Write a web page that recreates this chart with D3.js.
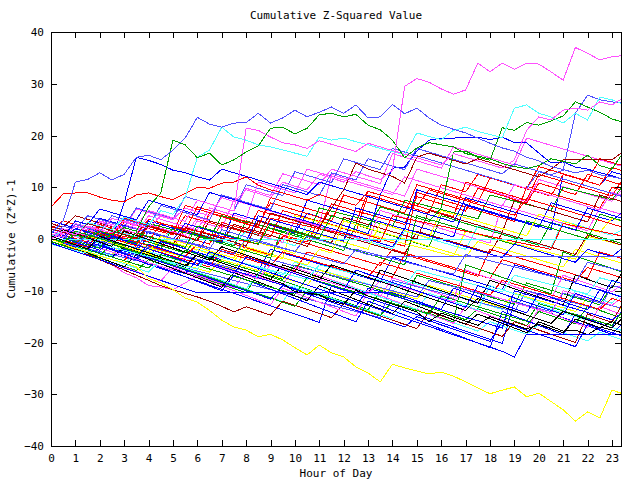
<!DOCTYPE html>
<html>
<head>
<meta charset="utf-8">
<script src="https://cdn.jsdelivr.net/npm/d3@7"></script>
<style>
  body { margin: 0; background: #fff; }
  svg text { font-family: "DejaVu Sans Mono", monospace; font-size: 11px; fill: #000; }
</style>
</head>
<body>
<div id="chart"></div>
<script>
// half-hour sample times, 0 .. 23.5
const hours = d3.range(0, 24, 0.5);
const yTicks = [-40, -30, -20, -10, 0, 10, 20, 30, 40];
const xTicks = d3.range(0, 24, 1);

const _ = null; // no sample (gnuplot joins across it)

const pinkTop = [0,1.5,0.8,2.5,1.8,1.2,3.5,2.8, 2,4.5,3.8,6,5.2,4.5,8,7.2, 9.5,8.8,8,11,10.2,9.5,12.5,11.8, 11,13,12.2,11.5,13.3,29.5,31,30.3, 29,28,28.8,34,32.3,34,32.8,34, 33.8,32.3,30.7,37,35.9,34.6,35.2,35.5];
const yellowLow = [0,-1,-1.8,-2.5,-3.3,-4,-4.5,-5.4, -7.6,-8.5,-9.8,-11.4,-12.2,-13.8,-15.7,-17, -17.6,-18.9,-18.4,-19.5,-21,-22.4,-20.5,-22, -22.8,-24.7,-25.9,-27.6,-24.2,-24.9,-25.5,-26.1, -25.7,-26.5,-27.6,-28.8,-29.9,-29.2,-28.6,-30.5, -29.8,-31.4,-33,-35.2,-33.4,-34.6,-29.2,-30];
const lblueUp = [1,3.5,11,11.5,12.8,11.4,12.5,15.8, 16.2,15.3,17.2,19.5,23.5,22.2,21.6,22.4, 22.5,24.3,22.4,23.4,24.9,23.6,24.5,25.5, 24.3,25.9,23.4,23.6,26,24.2,25.3,23.4, 22,21.2,20.5,19.5,18.5,17.6,17,15.8, 15.1,14,13.4,12.8,13.3,12.4,12,11.6];
const greenUp = [0,-0.5,0.8,0.2,1.5,0.8,2.2,1.5, 6.2,8.9,19.1,18.2,15.7,16.6,14.3,15.3, 16.8,18,21.4,21.6,20.3,21.4,24,24.3, 23.6,24.1,22,21.1,19.1,15.7,17.6,18.6, 18.2,17.8,16.5,16,15.5,14.6,14,13.6, 14.2,15.5,15,14.5,16.2,14.2,13.5,17];
const redHigh = [6.2,8.7,8.9,8.9,8.1,7.5,7.2,8.5, 8.9,8.2,7.6,8.8,10,9.8,10.8,11, 12,10.4,9.5,8.9,8.2,7.5,8.6,7.8, 7.2,6.5,9.2,8.5,7.8,7.1,6.4,9.5, 8.8,8.1,7.4,6.7,6,5.3,4.6,7.8, 7.1,6.4,5.7,5,4.3,3.6,2.9,2.2];
const pinkB = [1,0.3,2.5,1.8,1.1,4,3.3,2.6, 5.5,4.8,4.1,3.4,7.5,6.8,6.1,5.4, 21.4,21,19.7,18.6,18.2,17.5,19,18.3, 17.6,16.9,18.5,17.8,17.1,16.4,15.7,15, 14.3,16.5,15.8,15.1,14.4,13.7,15.3,21, 23.6,23,24.9,25.3,24.9,26.5,25.9,27.4];
const cyanUp = [0.5,1.5,0.8,3.2,2.5,1.8,4.2,3.5, 2.8,5.5,4.8,8,15.8,17.2,21.6,19.7, 19.1,18.2,17.8,17.2,16.6,16,19.7,19.1, 19.5,18.8,18.2,17.5,16.9,16.3,20.5,19.8, 19.2,21,21.6,20.8,20.2,19.6,25.3,25.9, 24.3,23.6,22.4,24.3,23,27.4,26.9,26];
const greenB = [0,-0.7,1.5,0.8,0.1,-0.6,-1.3,1.2, 0.5,-0.2,-0.9,-1.6,2.5,1.8,1.1,0.4, -0.3,-1,3,2.3,1.6,0.9,0.2,4.5, 3.8,3.1,2.4,6.2,5.5,4.8,4.1,3.4, 6,16.8,17,15.8,15.2,21.5,21,22.5, 22,22.8,23.8,26.5,25.5,24.5,23.2,22.5];
const dredFlat = [2,1.3,0.6,3,2.3,1.6,0.9,0.2, 2.5,1.8,1.1,0.4,-0.3,3.5,2.8,2.1, 1.4,0.7,5,4.3,3.6,2.9,2.2,6, 9.5,14.7,13.5,12.8,12.1,10.8,15.8,16.6, 15.9,15.2,14.5,15.5,14.8,14.1,13.4,12.7, 12,13.5,15.3,_,_,_,15.3,17];
const cyanFlat = [-0.1,_,_,_,_,_,_,_, _,_,_,_,_,_,_,_, _,_,_,_,_,_,_,_, _,_,_,_,_,_,_,_, _,_,_,_,_,_,_,_, _,_,_,_,_,_,_,-0.1];
const lblueFlat = [0,-0.7,-1.4,1,0.3,-0.4,-1.1,-1.8, 1.5,0.8,0.1,-0.6,-1.3,-2,1.8,1.1, 0.4,-0.3,-1,-1.7,-2.4,0.5,-0.2,-0.9, -1.6,-2.3,-3,-3.3,_,_,_,_, _,_,_,_,_,_,_,_, _,_,_,_,_,_,_,-3.3];
const blueFlat = [-0.8,-1.6,-2.4,-3.2,-4,-4.8,-5.6,-6.4, -7.2,-8,-8.8,-9.6,-10.4,_,_,_, _,_,_,_,_,_,_,_, _,_,_,_,-10.4,-11.2,-12,-12.8, -13.6,-9.5,-10.3,-11.1,-11.9,-12.7,-13.5,-14.3, -10.5,-11.3,-12.1,-12.9,-13.7,-9.8,-10.6,-11.4];
const blueFlat2 = [1,0.2,-0.6,-1.4,-2.2,0.5,-0.3,-1.1, -1.9,-2.7,-3.5,-4.3,-5.1,-2.5,-3.3,-4.1, -4.9,-5.7,-6.5,-7.3,-8.1,-8.9,-9.7,-10.5, -11.3,-12.1,-12.9,-13.7,-14.5,-15.3,-16.1,-16.9, -17.7,-18.5,-19.3,-20.1,-20.9,-21.7,-22.8,-18.4, _,_,_,_,_,_,_,-18.4];
const black1 = [0.5,-0.3,-1.1,-1.9,0.5,-0.3,-1.1,-1.9, -2.7,-3.5,-4.3,-5.1,-3,-3.8,-4.6,-5.4, -6.2,-7,-7.8,-8.6,-10.2,-10.4,-10.8,-12, -12.6,-9.9,-11,-11.8,-12.6,-13.3,-14.1,-16, -14.3,-15.1,-15.9,-16.7,-15,-15.8,-16.6,-17.4, -16.5,-17.3,-18.1,-15.5,-16.3,-17.1,-16,-16.8];
const black2 = [0,1.8,1,0.2,-0.6,-1.4,1.5,0.7, -0.1,-0.9,-1.7,-2.5,-3.3,-4.1,-1.5,-2.3, -3.1,-3.9,-4.7,-5.5,-6.3,-7.1,-7.9,-5, -5.8,-6.6,-7.4,-8.2,-9,-9.8,-10.6,-11.4, -12.2,-13,-13.8,-11.5,-12.3,-13.1,-13.9,-14.7, -15.5,-16.3,-14,-14.8,-15.6,-16.4,-17.2,-15];

const b01 = [1,0.5,2.5,1.8,1.2,0.6,3.2,2.6, 2,1.4,0.8,4.5,3.8,3.2,2.5,1.9, 1.2,5.5,4.8,4.2,3.5,2.9,2.2,6.8, 6.1,5.4,4.8,4.1,3.5,2.8,8.2,7.5, 6.8,6.1,5.4,9.8,9.1,8.4,7.6,6.9, 10.8,10.1,9.3,8.6,12.5,11.8,11,10.3];
const b02 = [0.5,-0.2,-0.8,-1.5,1.5,0.9,0.2,-0.5, -1.2,-1.8,2.2,1.5,0.8,0.1,-0.6,-1.3, 3.5,2.8,2,1.3,0.6,-0.1,-0.8,-1.5, -2.2,2.8,2,1.3,0.6,-0.1,-0.8,-1.5, 4.5,3.8,3,2.3,1.6,0.9,0.2,-0.5, -1.2,3.2,2.5,1.8,1.1,0.4,-0.3,-1];
const b03 = [2,1.2,0.5,-0.2,-0.9,-1.6,-2.3,-3, -3.7,-0.5,-1.2,-1.9,-2.6,-3.3,-4,-4.7, -5.4,-6.1,-2,-2.7,-3.4,-4.1,-4.8,-5.5, -6.2,-6.9,-7.6,-8.3,-3.5,-4.2,-4.9,-5.6, -6.3,-7,-7.7,-8.4,-9.1,-9.8,-5,-5.7, -6.4,-7.1,-7.8,-8.5,-9.2,-9.9,-10.6,-11.3];
const b04 = [0,1.2,0.5,-0.2,3.5,2.8,2.1,5.8, 5.1,4.4,3.7,8.2,7.5,6.8,6.1,5.4, 9.8,9.1,8.4,12.6,11.9,11.2,10.5,13.5, 12.8,12.1,11.4,10.7,16.5,15.8,15.1,14.4, 13.7,17.8,17.1,16.4,15.7,15,14.3,19.5, 18.8,18.1,17.4,16.7,16,15.3,14.6,13.9];
const b05 = [0.5,-0.3,-1,-1.8,-2.5,-3.2,-1,-1.7, -2.4,-3.1,-3.8,-4.5,-2,-2.7,-3.4,-4.1, -4.8,-5.5,-6.2,-6.9,-4.5,-5.2,-5.9,-6.6, -7.3,-8,-8.7,-9.4,-10.1,-8,-8.7,-9.4, -10.1,-10.8,-11.5,-12.2,-12.9,-13.6,-11.5,-12.2, -12.9,-13.6,-14.3,-15,-15.7,-16.4,-17.1,-17.8];
const b06 = [1.5,0.8,0.1,-0.6,2.5,1.8,1.1,0.4, -0.3,-1,-1.7,1.8,1.1,0.4,-0.3,-1, -1.7,-2.4,-3.1,0.5,-0.2,-0.9,-1.6,-2.3, -3,-3.7,-4.4,-5.1,-2,-2.7,-3.4,-4.1, -4.8,-5.5,-6.2,-6.9,-7.6,-4,-4.7,-5.4, -6.1,-6.8,-7.5,-8.2,-5.5,-6.2,-6.9,-7.6];
const b07 = [0,-0.7,-1.4,-2.1,-2.8,-3.5,-1.5,-2.2, -2.9,-3.6,-4.3,-5,-5.7,-6.4,-4,-4.7, -5.4,-6.1,-6.8,-7.5,-8.2,-8.9,-6,-6.7, -7.4,-8.1,-8.8,-9.5,-10.2,-10.9,-11.6,-9, -9.7,-10.4,-11.1,-11.8,-12.5,-13.2,-10.5,-11.2, -11.9,-12.6,-13.3,-14,-11.5,-12.2,-12.9,-13.6];
const b08 = [0,-0.8,-1.6,1,0.2,-0.6,-1.4,-2.2, 0.5,-0.3,-1.1,-1.9,-2.7,1,0.2,-0.6, -1.4,3.5,2.7,1.9,1.1,5,4.2,3.4, 2.6,1.8,1,8.5,13.7,13.9,17,19.1, 19.5,19.5,19.6,19.7,19.2,19.7,18.6,18.6, 16.6,14.7,14.9,13.9,13.5,12.8,12.2,11.5];
const b09 = [-0.5,-1.2,-1.9,-2.6,-3.3,-1,-1.7,-2.4, -3.1,-3.8,-4.5,-2.2,-2.9,-3.6,-4.3,-5, -5.7,-6.4,-7.1,-7.8,-5,-5.7,-6.4,-7.1, -7.8,-8.5,-9.2,-9.9,-10.6,-11.3,-7,-7.7, -8.4,-9.1,-9.8,-10.5,-11.2,-11.9,-12.6,-8.5, -9.2,-9.9,-10.6,-11.3,-12,-12.7,-9,-9.7];
const b10 = [0,-1,-2,-3,-4,-5,-6.5,-7.5, -9,-9.3,-9.8,-8.5,-7,-7.8,-8.6,-9.4, -6.5,-7.3,-8.1,-8.9,-5.5,-6.3,-7.1,-7.9, -8.7,-9.5,-10.3,-11.1,-7.5,-8.3,-9.1,-9.9, -10.7,-11.5,-6,-6.8,-7.6,-8.4,-9.2,-10, -10.8,-11.6,-7,-7.8,-8.6,-9.4,-10.2,-8.5];
const b11 = [2,1.3,0.6,-0.1,-0.8,1.8,1.1,0.4, -0.3,-1,2.5,1.8,1.1,0.4,-0.3,-1, 1.5,0.8,0.1,-0.6,-1.3,3,2.3,1.6, 0.9,0.2,-0.5,-1.2,-1.9,1.5,0.8,0.1, -0.6,-1.3,-2,2.5,1.8,1.1,0.4,-0.3, -1,-1.7,3.5,2.8,2.1,1.4,0.7,2];
const b12 = [3,2.3,4.5,3.8,3.1,2.4,1.7,1, 3.8,3.1,2.4,1.7,1,0.3,-0.4,2.8, 2.1,1.4,0.7,0,-0.7,-1.4,2,1.3, 0.6,-0.1,-0.8,-1.5,-2.2,-2.9,1.5,0.8, 0.1,-0.6,-1.3,-2,-2.7,1.2,0.5,-0.2, -0.9,-1.6,-2.3,-3,0.8,0.1,-0.6,-1.3];
const b13 = [0,-0.6,-1.2,-1.8,-2.4,-3,-3.6,-4.2, -1.5,-2.1,-2.7,-3.3,-3.9,-4.5,-5.1,-5.7, -6.3,-6.9,-4,-4.6,-5.2,-5.8,-6.4,-7, -7.6,-8.2,-8.8,-9.4,-10,-10.6,-11.2,-8, -8.6,-9.2,-9.8,-10.4,-11,-11.6,-12.2,-12.8, -13.4,-14,-10.5,-11.1,-11.7,-12.3,-12.9,-13.5];
const b14 = [0,-0.7,-1.4,-2.1,-2.8,-3.5,-4.2,-1.2, -1.9,-2.6,-3.3,-4,-4.7,-5.4,-2,-2.7, -3.4,-4.1,-4.8,-5.5,-6.2,-2.5,-3.2,-3.9, -4.6,-5.3,-6,-6.7,-7.4,-3,-3.7,-4.4, -5.1,-5.8,-6.5,-7.2,-2,-2.7,-3.4,-4.1, -4.8,-5.5,-6.2,-6.9,-7.6,-2.5,-3.2,-3.9];
const b15 = [1,0.3,-0.4,-1.1,-1.8,-2.5,-3.2,-3.9, -4.6,-5.3,-6,-6.7,-4,-4.7,-5.4,-6.1, -6.8,-7.5,-8.2,-8.9,-9.6,-10.3,-11,-11.7, -12.4,-13.1,-9.5,-10.2,-10.9,-11.6,-12.3,-13, -13.7,-14.4,-15.1,-15.8,-16.5,-17.2,-10,-10.7, -11.4,-12.1,-12.8,-13.5,-14.2,-14.9,-15.6,-14];
const b16 = [0,-0.6,-1.2,1.5,0.9,0.3,-0.3,-0.9, 3,2.4,1.8,1.2,0.6,0,4.5,3.9, 3.3,2.7,2.1,1.5,0.9,0.3,6,5.4, 4.8,4.2,3.6,3,2.4,7.5,6.9,6.3, 5.7,5.1,4.5,3.9,8.5,7.9,7.3,6.7, 6.1,5.5,10,9.4,8.8,8.2,7.6,10.5];
const b17 = [1.5,0.8,3,2.3,1.6,0.9,0.2,3.5, 2.8,2.1,1.4,0.7,4.2,3.5,2.8,2.1, 1.4,0.7,0,-0.7,3.8,3.1,2.4,1.7, 1,0.3,-0.4,5.5,4.8,4.1,3.4,2.7, 2,1.3,0.6,-0.1,-0.8,6.5,5.8,5.1, 4.4,3.7,3,2.3,1.6,6,5.3,4.6];
const b18 = [0,-0.8,-1.6,-2.4,-3.2,-4,-4.8,-5.6, -6.4,-4,-4.8,-5.6,-6.4,-7.2,-8,-8.8, -9.6,-7,-7.8,-8.6,-9.4,-10.2,-11,-8, -8.8,-9.6,-10.4,-11.2,-12,-12.8,-13.6,-10.5, -11.3,-12.1,-12.9,-13.7,-9,-9.8,-10.6,-11.4, -12.2,-13,-13.8,-10,-10.8,-11.6,-12.4,-10];
const b19 = [0.5,2,1.3,0.6,-0.1,-0.8,-1.5,-2.2, -2.9,0,-0.7,-1.4,-2.1,-2.8,-3.5,-4.2, -1.5,-2.2,-2.9,-3.6,-4.3,-5,-2,-2.7, 3.5,2.8,2.1,1.4,0.7,0,-0.7,-1.4, -2.1,-2.8,-3.5,-0.5,-1.2,-1.9,-2.6,-3.3, -4,-4.7,-5.4,-2,-2.7,-3.4,-4.1,-4.8];
const b20 = [0,-0.9,-1.8,-2.7,-3.6,-4.5,-5.4,-3, -3.9,-4.8,-5.7,-6.6,-7.5,-8.4,-9.3,-6.5, -7.4,-8.3,-9.2,-10.1,-11,-11.9,-9,-9.9, -10.8,-11.7,-12.6,-13.5,-14.4,-12,-12.9,-13.8, -14.7,-15.6,-16.5,-14.5,-15.4,-16.3,-17.2,-18.1, -16,-16.9,-17.8,-17.6,-18.5,-17,-17.6,-18.2];
const b21 = [0.5,-0.3,-1.1,-1.9,-2.7,-3.5,-2,-2.8, -3.6,-4.4,-5.2,-6,-6.8,-7.6,-8.4,-9.2, -10,-10.8,-11.6,-9,-9.8,-10.6,-11.4,-12.2, -13,-13.8,-14.6,-15.4,-16.2,-17,-15,-15.8, -16.6,-17.4,-18.2,-19,-19.8,-16,-16.8,-17.6, -18.4,-19.2,-20,-20.8,-16.5,-17.3,-18.1,-18.9];
const b22 = [0,1.5,0.8,0.1,2.8,2.1,1.4,0.7, 3.8,3.1,2.4,1.7,6.2,5.5,4.8,4.1, 3.4,2.7,7,6.3,5.6,4.9,4.2,3.5, 8.5,7.8,7.1,6.4,5.7,5,10.5,9.8, 9.1,8.4,7.7,7,11.8,11.1,10.4,9.7, 9,8.3,12.5,11.8,11.1,10.4,13.8,13.1];
const b23 = [2.5,1.8,1.1,0.4,-0.3,2.5,1.8,1.1, 0.4,-0.3,-1,2.2,1.5,0.8,0.1,-0.6, -1.3,3.5,2.8,2.1,1.4,0.7,0,-0.7, 4.2,3.5,2.8,2.1,1.4,0.7,0,5.5, 4.8,4.1,3.4,2.7,2,1.3,7.5,6.8, 6.1,5.4,4.7,4,3.3,8.5,7.8,7.1];
const b24 = [0,2.5,1.8,4.5,3.8,3.1,2.4,6, 5.3,4.6,3.9,8.2,7.5,6.8,6.1,5.4, 10.5,9.8,9.1,8.4,13,12.3,11.6,10.9, 15.5,14.8,14.1,13.4,17.5,16.8,16.1,15.4, 14.7,14,13.3,12.6,11.9,11.2,10.5,9.8, 13,12.3,11.6,10.9,10.2,9.5,8.8,8.1];
const b25 = [0,-0.7,-1.4,-2.1,-2.8,-3.5,-4.2,-4.9, -5.6,-3,-3.7,-4.4,-5.1,-5.8,-6.5,-7.2, -7.9,-8.6,-9.3,-10,-10.7,-7.5,-8.2,-8.9, -9.6,-10.3,-11,-11.7,-12.4,-13.1,-13.8,-14.5, -11,-11.7,-12.4,-13.1,-13.8,-14.5,-15.2,-15.9, -12.5,-13.2,-13.9,-14.6,-15.3,-16,-16.7,-13.5];
const b26 = [1,0.3,-0.4,-1.1,-1.8,-2.5,-3.2,-3.9, -4.6,-5.3,-6,-3.5,-4.2,-4.9,-5.6,-6.3, -7,-7.7,-5,-5.7,-6.4,-7.1,-7.8,-8.5, -9.2,-9.9,-10.6,-8,-8.7,-9.4,-10.1,-10.8, -11.5,-12.2,-9.5,-10.2,-10.9,-11.6,-12.3,-13, -13.7,-14.4,-10,-10.7,-11.4,-12.1,-12.8,-11];
const b27 = [3.5,2.8,2.1,1.4,4,3.3,2.6,1.9, 1.2,0.5,-0.2,3,2.3,1.6,0.9,0.2, -0.5,4.5,3.8,3.1,2.4,1.7,1,0.3, -0.4,6,5.3,4.6,3.9,3.2,2.5,1.8, 1.1,0.4,6.5,5.8,5.1,4.4,3.7,3, 2.3,7,6.3,5.6,4.9,4.2,3.5,5.5];
const b28 = [0.5,-0.2,-0.9,-1.6,1.5,0.8,0.1,-0.6, -1.3,-2,-2.7,-3.4,-1,-1.7,-2.4,-3.1, -3.8,-4.5,-5.2,-2.5,-3.2,-3.9,-4.6,-5.3, -6,-6.7,-7.4,-4.5,-5.2,-5.9,-6.6,-7.3, -8,-8.7,-9.4,-10.1,-10.8,-8,-8.7,-9.4, -10.1,-10.8,-11.5,-12.2,-12.9,-13.6,-11.5,-12.2];
const b29 = [-1,-1.6,-2.2,-2.8,-1,-1.6,-2.2,-2.8, -3.4,-4,-4.6,-5.2,-5.8,-3,-3.6,-4.2, -4.8,-5.4,-6,-6.6,-7.2,-7.8,-5,-5.6, -6.2,-6.8,-7.4,-8,-8.6,-9.2,-6,-6.6, -7.2,-7.8,-8.4,-9,-9.6,-10.2,-7,-7.6, -8.2,-8.8,-9.4,-10,-10.6,-7.5,-8.1,-8.7];
const b30 = [0,-0.7,-1.4,1,0.3,-0.4,-1.1,-1.8, -2.5,0.5,-0.2,-0.9,-1.6,-2.3,-3,-3.7, 0,-0.7,-1.4,-2.1,-2.8,1.5,0.8,0.1, -0.6,-1.3,-2,3,2.3,1.6,0.9,0.2, 5.5,4.8,4.1,3.4,2.7,2,1.3,0.6, 4.8,4.1,3.4,2.7,2,1.3,4,3.3];
const b31 = [0,-0.8,-1.6,-0.5,-1.3,-2.1,-2.9,-3.7, -1,-1.8,-2.6,-3.4,-4.2,-5,-5.8,-6.6, -3.5,-4.3,-5.1,-5.9,-6.7,-7.5,-8.3,-9.1, -9.9,-6,-6.8,-7.6,-8.4,-9.2,-10,-10.8, -11.6,-12.4,-13.2,-9,-9.8,-10.6,-11.4,-12.2, -13,-13.8,-14.6,-10.5,-11.3,-12.1,-8,-8.8];
const b32 = [1,0.3,-0.4,-1.1,-1.8,1.5,0.8,0.1, -0.6,-1.3,-2,-2.7,0.5,-0.2,-0.9,-1.6, -2.3,-3,-3.7,2,1.3,0.6,-0.1,-0.8, -1.5,-2.2,-2.9,-3.6,-4.3,-5,4.5,3.8, 3.1,2.4,1.7,1,0.3,-0.4,-1.1,3.5, 2.8,2.1,1.4,0.7,0,4.8,4.1,3.4];
const b33 = [2,1.4,0.8,0.2,-0.4,-1,2.5,1.9, 1.3,0.7,0.1,-0.5,-1.1,-1.7,-2.3,-2.9, 0,-0.6,-1.2,-1.8,-2.4,-3,-3.6,-4.2, -4.8,-2,-2.6,-3.2,-3.8,-4.4,-5,-5.6, -6.2,-6.8,-3,-3.6,-4.2,-4.8,-5.4,-6, -6.6,-7.2,-7.8,-8.4,-4.5,-5.1,-5.7,-6.3];
const b34 = [0,-0.5,-1,2,1.5,1,0.5,0, -0.5,3,2.5,2,1.5,1,0.5,0, -0.5,-1,4,3.5,3,2.5,2,1.5, 1,0.5,0,-0.5,4.5,4,3.5,3, 2.5,2,1.5,1,0.5,0,-0.5,-1, -1.5,-2,3,2.5,2,1.5,1,0.5];
const b35 = [0.5,2,1.3,0.6,3.2,2.5,1.8,1.1, 4.5,3.8,3.1,2.4,1.7,6,5.3,4.6, 3.9,11,10.3,9.6,8.9,13.5,12.8,12.1, 11.4,10.7,10,9.3,8.6,12,11.3,10.6, 9.9,9.2,8.5,7.8,7.1,6.4,10.5,9.8, 9.1,8.4,7.7,7,6.3,5.6,9,8.3];
const b36 = [1,0.3,3.5,2.8,5.8,5.1,4.4,3.7, 7.5,6.8,6.1,5.4,4.7,9,8.3,7.6, 6.9,6.2,5.5,4.8,4.1,3.4,2.7,2, 1.3,0.6,-0.1,-0.8,-1.5,2,1.3,0.6, -0.1,-0.8,-1.5,-2.2,-2.9,-3.6,-1,-1.7, -2.4,-3.1,-3.8,-4.5,-2,-2.7,-3.4,-1.5];
const b37 = [0.5,-0.2,2.8,2.1,1.4,4.5,3.8,3.1, 2.4,6.5,5.8,5.1,4.4,3.7,8.5,7.8, 7.1,6.4,5.7,10.5,9.8,9.1,8.4,12.8, 12.1,11.4,15.5,14.8,14.1,13.4,17.5,16.8, 16.1,15.4,14.7,14,13.3,12.6,14.5,13.8, 13.1,12.4,13.3,24.3,27.8,26.9,26.5,26.2];

const c01 = [0.5,-0.2,-0.9,1.5,0.8,0.1,-0.6,-1.3, 2.5,1.8,1.1,0.4,-0.3,-1,3.2,2.5, 1.8,1.1,0.4,5.5,4.8,4.1,3.4,2.7, 2,1.3,8.5,7.8,7.1,6.4,5.7,5, 10.5,9.8,9.1,12.5,11.8,11.1,10.4,9.7, 14,13.3,12.6,11.9,11.2,15.5,14.8,14.1];
const c02 = [2,3.5,2.8,2.1,1.4,0.7,4,3.3, 2.6,1.9,1.2,0.5,-0.2,5,4.3,3.6, 2.9,2.2,1.5,0.8,0.1,-0.6,3.5,2.8, 2.1,1.4,0.7,0,-0.7,-1.4,9,8.3, 7.6,6.9,6.2,5.5,4.8,4.1,3.4,10.2, 9.5,8.8,8.1,7.4,6.7,6,10,9.3];
const c03 = [-0.5,-1.3,-2.1,-2.9,-3.7,-4.5,-5.3,-6.1, -4,-4.8,-5.6,-6.4,-7.2,-8,-8.8,-9.6, -10.4,-6.5,-7.3,-8.1,-8.9,-9.7,-10.5,-11.3, -12.1,-12.9,-13.7,-10,-10.8,-11.6,-12.4,-13.2, -14,-14.8,-15.6,-13.5,-14.3,-15.1,-15.9,-16.7, -14,-14.8,-15.6,-16.4,-13,-13.8,-14.6,-15.4];
const c04 = [1.5,0.7,-0.1,-0.9,-1.7,-2.5,-3.3,-4.1, -4.9,-5.7,-6.5,-7.3,-8.1,-8.9,-9.7,-10.5, -11.3,-12.1,-12.9,-13.7,-14.5,-15.3,-16.1,-9, -9.8,-10.6,-11.4,-12.2,-13,-13.8,-14.6,-15.4, -16.2,-17,-17.8,-18.6,-19.4,-20.2,-12,-12.8, -13.6,-14.4,-15.2,-16,-16.8,-17.6,-18.4,-16];
const c05 = [0,-0.7,1.5,0.8,0.1,-0.6,2.8,2.1, 1.4,0.7,0,-0.7,3.5,2.8,2.1,7.5, 6.8,6.1,5.4,4.7,4,3.3,2.6,12.5, 11.8,11.1,10.4,9.7,9,8.3,13.5,12.8, 12.1,11.4,10.7,10,9.3,8.6,7.9,7.2, 11.5,10.8,10.1,9.4,8.7,8,7.3,10];
const c06 = [0,-0.8,-1.6,-2.4,-3.2,-4,-4.8,-2.5, -3.3,-4.1,-4.9,-5.7,-6.5,-7.3,-8.1,-8.9, -9.7,-10.5,-11.3,-12.1,-9,-9.8,-10.6,-11.4, -12.2,-13,-13.8,-14.6,-15.4,-13,-13.8,-14.6, -15.4,-16.2,-17,-17.8,-16,-16.8,-17.6,-18.4, -16.5,-17.3,-18.1,-18.9,-19.7,-18,-18.8,-19.6];
const c07 = [0,-0.6,-1.2,-1.8,-2.4,-3,-0.5,-1.1, -1.7,-2.3,-2.9,-3.5,-4.1,-4.7,-5.3,-5.9, -2,-2.6,-3.2,-3.8,4.5,3.9,3.3,2.7, 2.1,1.5,0.9,0.3,-0.3,-0.9,-1.5,-2.1, -2.7,-3.3,1.5,0.9,0.3,-0.3,-0.9,-1.5, -2.1,-2.7,-3.3,-3.9,0.5,-0.1,-0.7,-1.3];
const c08 = [0,-1,-2,-3,-4,-5,-6,-7, -8,-9,-9.8,-10.5,-11.2,-12,-13,-14.1, -13.1,-13.9,-14.7,-12,-12.8,-13.6,-14.4,-15.2, -12.5,-13.3,-14.1,-14.9,-15.7,-16.5,-17.3,-14, -14.8,-15.6,-16.4,-17.2,-18,-18.8,-16,-16.8, -17.6,-18.4,-19.2,-20,-14.5,-15.3,-16.1,-12];
const c09 = [1,0.4,-0.2,-0.8,-1.4,-2,-2.6,-3.2, -3.8,-4.4,-5,-5.6,-6.2,-6.8,-7.4,-8, -8.6,-9.2,-9.8,-10.4,-11,-11.6,-12.2,-12.8, -13.4,-14,-14.6,-15.2,-8,-8.6,-9.2,-9.8, -10.4,-11,-11.6,-12.2,-12.8,-13.4,-14,-10, -10.6,-11.2,-11.8,-12.4,-13,-13.6,-9,-9.6];
const c10 = [0,-0.7,-1.4,2,1.3,0.6,-0.1,-0.8, 3.5,2.8,2.1,1.4,0.7,0,-0.7,5, 4.3,3.6,2.9,2.2,1.5,7.5,6.8,6.1, 5.4,4.7,4,3.3,2.6,1.9,9.5,8.8, 8.1,7.4,6.7,6,5.3,4.6,3.9,3.2, 2.5,1.8,12.5,11.8,11.1,10.4,13,12.3];
const c11 = [0,-0.8,-1.6,-2.4,-3.2,-1,-1.8,-2.6, -3.4,-4.2,-5,-5.8,-6.6,-7.4,-8.2,-9, -9.8,-10.6,-11.4,-12.2,-13,-10,-10.8,-11.6, -12.4,-13.2,-14,-14.8,-12,-12.8,-13.6,-14.4, -15.2,-16,-5,-5.8,-6.6,-7.4,-8.2,-9, -9.8,-10.6,-2.5,-3.3,-4.1,-4.9,-5.7,-6.5];
const c12 = [0.5,-0.3,-1.1,-1.9,-2.7,-3.5,-1.5,-2.3, -3.1,-3.9,-4.7,-5.5,-3,-3.8,-4.6,-5.4, -6.2,-7,-7.8,-5,-5.8,-6.6,-7.4,-8.2, -9,-9.8,-10.6,-6,-6.8,-7.6,-8.4,-9.2, -10,-10.8,-11.6,-12.4,-8,-8.8,-9.6,-10.4, -11.2,-12,-12.8,-7,-7.8,-8.6,-9.4,-6];
const c13 = [0,-0.9,-1.8,-2.7,-3.6,-4.5,-5.4,-6.3, -7.2,-8.1,-5.5,-6.4,-7.3,-8.2,-9.1,-10, -10.9,-11.8,-12.7,-9.5,-10.4,-11.3,-12.2,-13.1, -14,-14.9,-10,-10.9,-11.8,-12.7,-13.6,-14.5, -15.4,-16.3,-13,-13.9,-14.8,-15.7,-16.6,-17.5, -13.5,-14.4,-15.3,-16.2,-17.1,-13,-13.9,-14.8];
const c14 = [1,0.3,2.5,1.8,1.1,0.4,3.8,3.1, 2.4,1.7,1,6.5,5.8,5.1,4.4,3.7, 3,2.3,8,7.3,6.6,5.9,5.2,4.5, 3.8,3.1,9.2,8.5,7.8,7.1,6.4,5.7, 5,4.3,11,10.3,9.6,8.9,8.2,7.5, 12.5,11.8,11.1,10.4,9.7,9,8.3,12];
const c15 = [0,-0.9,-1.8,-2.7,-1,-1.9,-2.8,-3.7, -4.6,-5.5,-6.4,-7.3,-8.2,-9.1,-10,-7, -7.9,-8.8,-9.7,-10.6,-11.5,-12.4,-13.3,-14.2, -15.1,-16,-12,-12.9,-13.8,-14.7,-15.6,-16.5, -17.4,-18.3,-19.2,-20.1,-21,-14,-14.9,-15.8, -16.7,-17.6,-18.5,-14.5,-15.4,-16.3,-17.2,-13];
const c16 = [1,0.3,2,1.3,0.6,-0.1,7,15.8, 15.2,14.4,13.3,12.8,12,11.4,13.5,12.8, 12.1,11.4,10.7,10,9.3,8.6,11,10.3, 9.6,8.9,8.2,7.5,6.8,6.1,5.4,4.7, 4,3.3,8,7.3,6.6,5.9,5.2,4.5, 3.8,3.1,2.4,1.7,6,5.3,4.6,3.9];

const RED = "#ff0000", GREEN = "#00a000", BLUE = "#0000ff", PINK = "#ff50ff",
      CYAN = "#50ffff", YELLOW = "#ffff00", BLACK = "#000000", DRED = "#a00000", LBLUE = "#5050ff";

const series = [
  [b01, RED], [b02, GREEN], [b03, BLUE], [b04, PINK], [b05, CYAN], [b06, RED], [b07, YELLOW],
  [c01, RED], [c02, RED], [c03, GREEN], [c04, BLUE], [c05, PINK], [c06, CYAN], [c07, YELLOW],
  [b08, BLUE], [b09, GREEN], [b10, PINK], [b11, CYAN], [b12, DRED], [b13, LBLUE], [b14, RED],
  [c08, DRED], [c09, LBLUE], [c10, BLUE], [c11, GREEN], [c12, BLACK], [c13, PINK], [c14, RED], [c15, BLUE],
  [b15, BLUE], [b16, GREEN], [b17, PINK], [b18, CYAN], [b19, YELLOW], [b20, BLACK], [b21, BLUE],
  [b22, RED], [b23, DRED], [b24, LBLUE], [b25, GREEN], [b26, PINK], [b27, BLUE], [b28, RED],
  [b29, CYAN], [b30, YELLOW], [b31, BLUE], [b32, GREEN], [b33, LBLUE], [b34, RED], [b35, PINK],
  [b36, BLUE], [b37, LBLUE], [c16, BLUE],
  [cyanFlat, CYAN], [lblueFlat, LBLUE], [blueFlat, BLUE], [blueFlat2, BLUE],
  [black1, BLACK], [black2, BLACK], [dredFlat, DRED], [redHigh, RED], [greenB, GREEN],
  [cyanUp, CYAN], [pinkB, PINK], [greenUp, GREEN], [lblueUp, LBLUE], [yellowLow, YELLOW], [pinkTop, PINK]
].map(([values, color]) => ({ values, color }));

const width = 640, height = 480;
const plotLeft = 51, plotRight = 621, plotTop = 32, plotBottom = 446;

const svg = d3.select("#chart").append("svg")
  .attr("width", width).attr("height", height);

const x = d3.scaleLinear().domain([0, 23.37]).range([plotLeft, plotRight]);
const y = d3.scaleLinear().domain([-40, 40]).range([plotBottom, plotTop]);

svg.append("clipPath").attr("id", "plot")
  .append("rect").attr("x", plotLeft).attr("y", plotTop)
  .attr("width", plotRight - plotLeft).attr("height", plotBottom - plotTop);

const line = d3.line().x(d => x(d.h)).y(d => y(d.v));

svg.append("g").attr("clip-path", "url(#plot)")
  .selectAll("path")
  .data(series)
  .join("path")
  .attr("fill", "none")
  .attr("stroke", d => d.color)
  .attr("stroke-width", 1)
  .attr("shape-rendering", "crispEdges")
  .attr("d", d => line(hours.map((h, i) => ({ h, v: d.values[i] })).filter(p => p.v != null)));

// axes, ticks pointing inward like gnuplot
const tick = 6;
svg.append("g").attr("transform", `translate(0,${plotBottom})`)
  .call(d3.axisBottom(x).tickValues(xTicks).tickSizeInner(-tick).tickSizeOuter(0).tickPadding(8))
  .call(g => g.select(".domain").remove());
svg.append("g").attr("transform", `translate(0,${plotTop})`)
  .call(d3.axisTop(x).tickValues(xTicks).tickSizeInner(-tick).tickSizeOuter(0).tickFormat(""))
  .call(g => g.select(".domain").remove());
svg.append("g").attr("transform", `translate(${plotLeft},0)`)
  .call(d3.axisLeft(y).tickValues(yTicks).tickSizeInner(-tick).tickSizeOuter(0).tickPadding(7))
  .call(g => g.select(".domain").remove());
svg.append("g").attr("transform", `translate(${plotRight},0)`)
  .call(d3.axisRight(y).tickValues(yTicks).tickSizeInner(-tick).tickSizeOuter(0).tickFormat(""))
  .call(g => g.select(".domain").remove());

svg.selectAll(".tick line").attr("stroke", "#000").attr("shape-rendering", "crispEdges");
svg.selectAll(".tick text").attr("font-family", null).attr("font-size", null);

svg.append("rect")
  .attr("x", plotLeft + 0.5).attr("y", plotTop + 0.5)
  .attr("width", plotRight - plotLeft).attr("height", plotBottom - plotTop)
  .attr("fill", "none").attr("stroke", "#000").attr("shape-rendering", "crispEdges");

svg.append("text").attr("x", 336).attr("y", 19).attr("text-anchor", "middle")
  .text("Cumulative Z-Squared Value");
svg.append("text").attr("x", 336).attr("y", 477).attr("text-anchor", "middle")
  .text("Hour of Day");
svg.append("text").attr("transform", "translate(15,239) rotate(-90)").attr("text-anchor", "middle")
  .text("Cumulative (Z*Z)-1");
</script>
</body>
</html>
